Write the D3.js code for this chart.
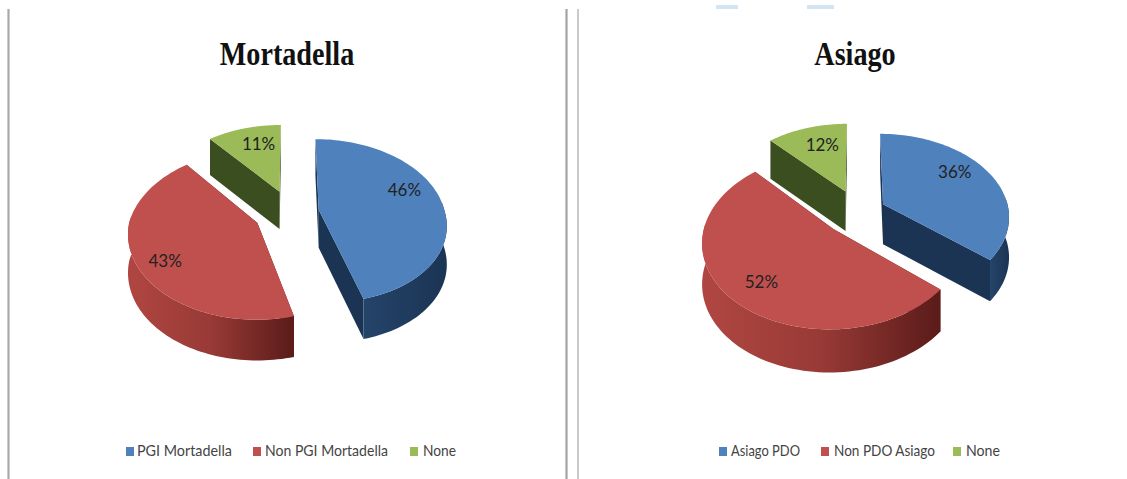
<!DOCTYPE html>
<html>
<head>
<meta charset="utf-8">
<script src="https://cdn.jsdelivr.net/npm/d3@7/dist/d3.min.js"></script>
<style>
  html, body { margin: 0; padding: 0; background: #fff; }
  svg { display: block; }
</style>
</head>
<body>
<svg id="chart" width="1127" height="479"></svg>
<script>
// Survey shares for the two cheese and cold-cut products
const mortadellaCategories = ["PGI Mortadella", "Non PGI Mortadella", "None"];
const mortadellaValues = [46, 43, 11];
const asiagoCategories = ["Asiago PDO", "Non PDO Asiago", "None"];
const asiagoValues = [36, 52, 12];

// Palette shared by both pies: top face, wall gradient start and end
const topColors = ["#4f81bd", "#c0504d", "#9bbb59"];
const wallFrom = ["#244469", "#b04641", "#445a25"];
const wallTo = ["#1b3454", "#5a1b19", "#3a4e1f"];

// Pie geometry common to both charts: disk radius and perspective strength
const radius = 126, perspective = 0.134;

const charts = [
  { title: "Mortadella", categories: mortadellaCategories, values: mortadellaValues,
    cx: 291, cy: 212, tilt: 0.64, wallHeight: 38, titleX: 287, explode: [28, 37, 35], shear: 0.04,
    labelAngle: [70, 238, 344], labelRadius: [0.76, 0.8, 0.71],
    swatchX: [126, 253, 410], legendX: [137, 265, 423], legendWidth: [95, 123, 33] },
  { title: "Asiago", categories: asiagoCategories, values: asiagoValues,
    cx: 858, cy: 212, tilt: 0.65, wallHeight: 40, titleX: 855, explode: [28, 35, 35], shear: 0,
    labelAngle: [55.8, 221.6, 341.8], labelRadius: [0.75, 0.75, 0.69],
    swatchX: [719, 821, 953], legendX: [731, 834, 966], legendWidth: [69, 101, 34] }
];

const svg = d3.select("#chart");
const defs = svg.append("defs");
const line = d3.line();
const pie = d3.pie().sort(null).value(d => d);
const rad = d3.scaleLinear().domain([0, 360]).range([0, 2 * Math.PI]);

// Panel rules and the small leftovers along the top edge
[[8.5, 2.2, "#a9a9a9"], [566.5, 2.2, "#a3a3a3"], [578, 1.6, "#bdbdbd"]].forEach(([x, w, c]) => {
  svg.append("line").attr("x1", x).attr("x2", x).attr("y1", 9).attr("y2", 479)
    .attr("stroke", c).attr("stroke-width", w);
});
[[716, 22], [807, 27]].forEach(([x, w]) => {
  svg.append("rect").attr("x", x).attr("y", 5).attr("width", w).attr("height", 4).attr("fill", "#d3e5f3");
});

// Map a point on the tilted disk (polar, relative to the slice apex) to the screen
function projector(chart, slice, i) {
  const mid = (slice.startAngle + slice.endAngle) / 2;
  const ox = chart.explode[i] * Math.sin(mid);
  const oy = chart.explode[i] * Math.cos(mid);
  return (angle, r, z) => {
    const along = r * Math.cos(angle);
    const X = ox + r * Math.sin(angle);
    const Y = oy + along;
    const s = 1 / (1 + perspective * Y / radius);
    // The wall height foreshortens less than the disk does
    const sz = 1 + (s - 1) * 0.4;
    return [chart.cx + X * s + Math.max(0, -along) * chart.shear,
            chart.cy - Y * chart.tilt * s + z * sz];
  };
}

charts.forEach((chart, c) => {
  const g = svg.append("g");
  const slices = pie(chart.values);

  g.append("text").attr("x", chart.titleX).attr("y", 65)
    .attr("text-anchor", "middle")
    .attr("font-family", "'Liberation Serif', serif")
    .attr("font-weight", "bold").attr("font-size", 32)
    .attr("transform", `translate(${chart.titleX},65) scale(0.88,1.08) translate(${-chart.titleX},-65)`)
    .attr("fill", "#111").text(chart.title);

  slices.forEach((slice, i) => {
    const pt = projector(chart, slice, i);
    const steps = d3.range(0, 97).map(k => slice.startAngle + (slice.endAngle - slice.startAngle) * k / 96);
    const outer = (z, angles) => angles.map(a => pt(a, radius, z));
    // Only the part of the rim that faces the viewer has a visible wall
    const front = steps.filter(a => Math.cos(a) < 0.1);

    const gradId = `wall-${c}-${i}`;
    const grad = defs.append("linearGradient").attr("id", gradId);
    grad.append("stop").attr("offset", 0).attr("stop-color", wallFrom[i]);
    grad.append("stop").attr("offset", i === 1 ? 0.5 : 1).attr("stop-color", i === 1 ? "#983a36" : wallTo[i]);
    grad.append("stop").attr("offset", 1).attr("stop-color", wallTo[i]);

    // Radial walls first, then the curved wall, then the top face over both
    [slice.startAngle, slice.endAngle].forEach(a => {
      g.append("path")
        .attr("d", line([pt(a, 0, 0), pt(a, radius, 0), pt(a, radius, chart.wallHeight), pt(a, 0, chart.wallHeight)]) + "Z")
        .attr("fill", wallTo[i]);
    });
    if (front.length > 1) {
      g.append("path")
        .attr("d", line(outer(0, front).concat(outer(chart.wallHeight, front).reverse())) + "Z")
        .attr("fill", `url(#${gradId})`);
    }
    g.append("path")
      .attr("d", line([pt(0, 0, 0)].concat(outer(0, steps))) + "Z")
      .attr("fill", topColors[i]);

    const [lx, ly] = pt(rad(chart.labelAngle[i]), radius * chart.labelRadius[i], 0);
    g.append("text").attr("x", lx).attr("y", ly + 6)
      .attr("text-anchor", "middle")
      .attr("font-family", "Lato, sans-serif").attr("font-size", 17)
      .attr("fill", "#222").text(chart.values[i] + "%");
  });

  // Legend row along the bottom of the panel
  chart.categories.forEach((name, i) => {
    g.append("rect").attr("x", chart.swatchX[i]).attr("y", 447)
      .attr("width", 8).attr("height", 9).attr("fill", topColors[i]);
    g.append("text").attr("x", chart.legendX[i]).attr("y", 456)
      .attr("font-family", "Lato, sans-serif").attr("font-size", 16)
      .attr("textLength", chart.legendWidth[i]).attr("lengthAdjust", "spacingAndGlyphs")
      .attr("fill", "#444").text(name);
  });
});
</script>
</body>
</html>
